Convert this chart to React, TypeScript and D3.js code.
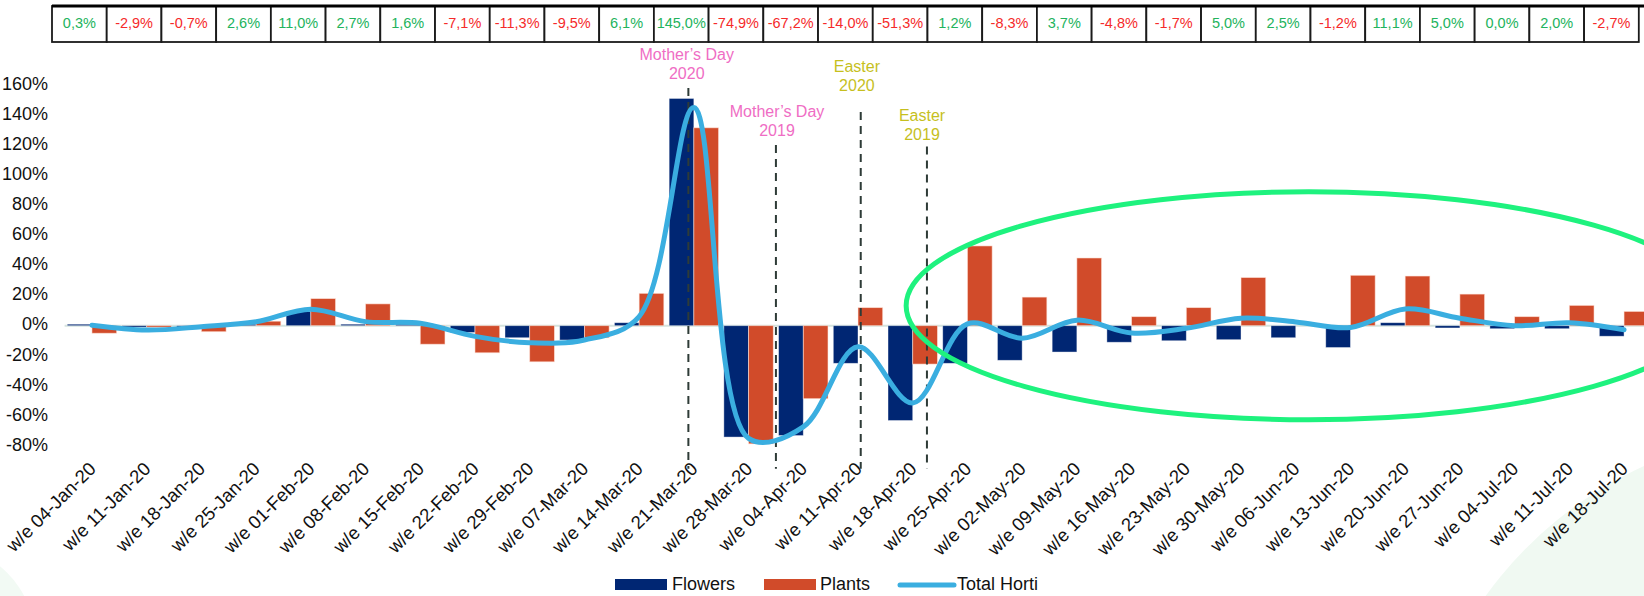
import React from "react";
import * as d3 from "d3";

const weeks = [
  "w/e 04-Jan-20", "w/e 11-Jan-20", "w/e 18-Jan-20", "w/e 25-Jan-20",
  "w/e 01-Feb-20", "w/e 08-Feb-20", "w/e 15-Feb-20", "w/e 22-Feb-20", "w/e 29-Feb-20",
  "w/e 07-Mar-20", "w/e 14-Mar-20", "w/e 21-Mar-20", "w/e 28-Mar-20",
  "w/e 04-Apr-20", "w/e 11-Apr-20", "w/e 18-Apr-20", "w/e 25-Apr-20",
  "w/e 02-May-20", "w/e 09-May-20", "w/e 16-May-20", "w/e 23-May-20", "w/e 30-May-20",
  "w/e 06-Jun-20", "w/e 13-Jun-20", "w/e 20-Jun-20", "w/e 27-Jun-20",
  "w/e 04-Jul-20", "w/e 11-Jul-20", "w/e 18-Jul-20",
];

// % change vs last year
const flowers = [
  1, -1, -1, 1, 9.5, 1, 1, -4.5, -8, -9.5, 2, 151, -74, -73, -25, -63, -25,
  -23, -17.5, -11, -10, -9.3, -8, -14.5, 2, -1.5, -2, -2, -7,
];
const plants = [
  -5, -1, -4, 3, 18, 14.5, -12.3, -18, -24, -8, 21.5, 131.5, -78.5, -48.5, 12,
  -25.5, 53, 19, 45, 6, 12, 32, 0, 33.5, 33, 21, 6, 13.5, 9.5,
];
// Total Horti, same numbers as the table on top
const totalHorti = [
  0.3, -2.9, -0.7, 2.6, 11.0, 2.7, 1.6, -7.1, -11.3, -9.5, 6.1, 145.0, -74.9,
  -67.2, -14.0, -51.3, 1.2, -8.3, 3.7, -4.8, -1.7, 5.0, 2.5, -1.2, 11.1, 5.0,
  0.0, 2.0, -2.7,
];

const yTicks = d3.range(-80, 161, 20);

// event markers: position in week index, label height and line top in %
const events = [
  { lines: ["Mother\u2019s Day", "2020"], at: 10.9, textAt: 10.87, labelY: 166.5, lineTop: 158, color: "#EF6DC4" },
  { lines: ["Mother\u2019s Day", "2019"], at: 12.5, textAt: 12.52, labelY: 128.7, lineTop: 120, color: "#EF6DC4" },
  { lines: ["Easter", "2020"], at: 14.05, textAt: 13.98, labelY: 158.6, lineTop: 142, color: "#C6BF1E" },
  { lines: ["Easter", "2019"], at: 15.26, textAt: 15.17, labelY: 126, lineTop: 119, color: "#C6BF1E" },
];

const W = 1644;
const H = 596;
const FONT = "'Liberation Sans', Arial, sans-serif";
const FLOWERS = "#002673";
const PLANTS = "#D14B2A";
const TOTAL = "#3AAEE0";

export default function App() {
  const x = d3.scaleBand().domain(weeks).range([64.6, 1651.4]).paddingInner(0.097).paddingOuter(0.0485);
  const sub = d3.scaleBand().domain(["flowers", "plants"]).range([0, x.bandwidth()]);
  const step = x.step();
  const center = (i: number) => (x(weeks[0]) as number) + x.bandwidth() / 2 + i * step;
  const y = d3.scaleLinear().domain([-80, 160]).range([446.1, 84.9]);

  const line = d3
    .line<number>()
    .x((_, i) => center(i))
    .y((d) => y(d))
    .curve(d3.curveCatmullRom.alpha(0.5));

  const ellipse = { x0: center(14.88), x1: center(29.6), y0: y(89), y1: y(-62.5) };

  return (
    <div>
      <style>{"body{margin:0;background:#fff}"}</style>
      <svg width={W} height={H} style={{ display: "block", fontFamily: FONT }}>
        {/* faint mint decorations in the corners */}
        <circle cx={1810} cy={830} r={400} fill="#F0F9F2" />
        <circle cx={-60} cy={640} r={95} fill="#F2FAF4" />

        {/* table of Total Horti values */}
        <g>
          {totalHorti.map((v, i) => {
            const left = center(i) - step / 2 - 12.6;
            return (
              <g key={i}>
                <rect x={left} y={6} width={step} height={36} fill="#fff" stroke="#1a1a1a" strokeWidth={1.8} />
                <text
                  x={left + step / 2}
                  y={24.5}
                  textAnchor="middle"
                  dominantBaseline="middle"
                  fontSize={14.5}
                  fill={v < 0 ? "#F52A2A" : "#22B35C"}
                >
                  {v.toFixed(1).replace(".", ",") + "%"}
                </text>
              </g>
            );
          })}
          <line x1={center(0) - step / 2 - 12.6} x2={W} y1={6} y2={6} stroke="#000" strokeWidth={3} />
        </g>

        {/* y axis labels */}
        {yTicks.map((t) => (
          <text key={t} x={48} y={y(t)} textAnchor="end" dominantBaseline="middle" fontSize={18} fill="#111">
            {t + "%"}
          </text>
        ))}

        {/* zero line */}
        <line x1={64.6} x2={W} y1={y(0)} y2={y(0)} stroke="#D5E3DE" strokeWidth={2} />

        {/* bars */}
        {weeks.map((w, i) => {
          const bx = x(w) as number;
          const f = flowers[i];
          const p = plants[i];
          return (
            <g key={w}>
              <rect
                x={bx + (sub("flowers") as number)}
                y={Math.min(y(f), y(0))}
                width={sub.bandwidth()}
                height={Math.abs(y(f) - y(0))}
                fill={FLOWERS}
                stroke="rgba(255,255,255,0.5)"
                strokeWidth={0.8}
              />
              <rect
                x={bx + (sub("plants") as number)}
                y={Math.min(y(p), y(0))}
                width={sub.bandwidth()}
                height={Math.abs(y(p) - y(0))}
                fill={PLANTS}
                stroke="rgba(255,230,220,0.7)"
                strokeWidth={0.8}
              />
            </g>
          );
        })}

        {/* event markers */}
        {events.map((e) => (
          <g key={e.lines.join()}>
            <line
              x1={center(e.at)}
              x2={center(e.at)}
              y1={y(e.lineTop)}
              y2={y(-95)}
              stroke="#2E3B37"
              strokeWidth={2}
              strokeDasharray="8,6"
            />
            <text x={center(e.textAt)} y={y(e.labelY) - 19} textAnchor="middle" dominantBaseline="middle" fontSize={16} fill={e.color}>
              {e.lines[0]}
            </text>
            <text x={center(e.textAt)} y={y(e.labelY)} textAnchor="middle" dominantBaseline="middle" fontSize={16} fill={e.color}>
              {e.lines[1]}
            </text>
          </g>
        ))}

        {/* Total Horti line */}
        <path d={line(totalHorti) ?? ""} fill="none" stroke={TOTAL} strokeWidth={5} strokeLinejoin="round" strokeLinecap="round" />

        {/* highlight ellipse */}
        <ellipse
          cx={(ellipse.x0 + ellipse.x1) / 2}
          cy={(ellipse.y0 + ellipse.y1) / 2}
          rx={(ellipse.x1 - ellipse.x0) / 2}
          ry={(ellipse.y1 - ellipse.y0) / 2}
          fill="none"
          stroke="#1EF27E"
          strokeWidth={5}
        />

        {/* x axis labels */}
        {weeks.map((w, i) => (
          <text
            key={w}
            transform={`translate(${center(i) + 5},470) rotate(-45)`}
            textAnchor="end"
            fontSize={18.5}
            fill="#111"
          >
            {w}
          </text>
        ))}

        {/* legend */}
        <g fontSize={18} fill="#111">
          <rect x={615} y={579} width={52} height={11} fill={FLOWERS} />
          <text x={672} y={585} dominantBaseline="middle">Flowers</text>
          <rect x={764} y={579} width={52} height={11} fill={PLANTS} />
          <text x={820} y={585} dominantBaseline="middle">Plants</text>
          <line x1={900} x2={954} y1={585} y2={585} stroke={TOTAL} strokeWidth={5} strokeLinecap="round" />
          <text x={957} y={585} dominantBaseline="middle">Total Horti</text>
        </g>
      </svg>
    </div>
  );
}
